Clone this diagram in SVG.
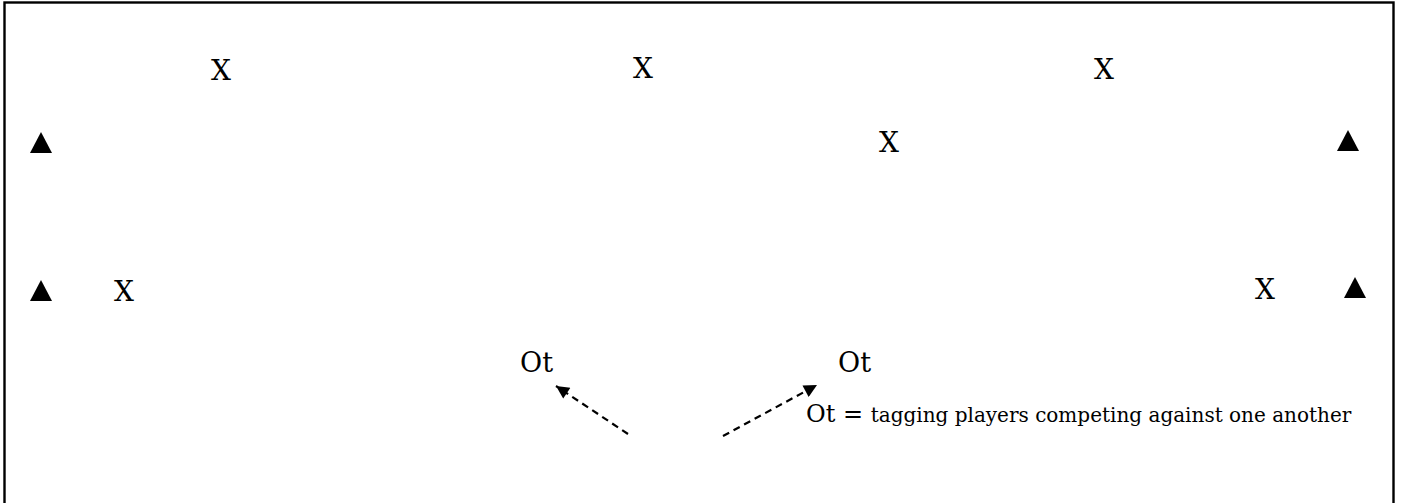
<svg xmlns="http://www.w3.org/2000/svg" width="1401" height="503" viewBox="0 0 1401 503">
<style>
text{font-family:'DejaVu Serif','Noto Serif','Liberation Serif',serif;fill:#000}
.lbl{font-size:28px}
.ot{font-size:27px}
.big{font-size:24px}
.small{font-size:20px}
.cone{fill:#000}
.arrow{stroke:#000;stroke-width:2.2;stroke-dasharray:7 5;fill:none}
</style>
<defs>
<marker id="ah" viewBox="0 0 10 10" refX="10" refY="5" markerWidth="16" markerHeight="13" markerUnits="userSpaceOnUse" orient="auto">
<path d="M0,0 L10,5 L0,10 z" fill="#000"/>
</marker>
</defs>
<rect x="4.5" y="2.5" width="1389" height="520" fill="#fff" stroke="#000" stroke-width="2.4"/>
<g id="x1"><text class="lbl" x="221" y="80" text-anchor="middle">X</text></g>
<g id="x2"><text class="lbl" x="643" y="78" text-anchor="middle">X</text></g>
<g id="x3"><text class="lbl" x="1104" y="79" text-anchor="middle">X</text></g>
<g id="x4"><text class="lbl" x="889" y="152" text-anchor="middle">X</text></g>
<g id="x5"><text class="lbl" x="124" y="301" text-anchor="middle">X</text></g>
<g id="x6"><text class="lbl" x="1265" y="299" text-anchor="middle">X</text></g>
<g id="cone1"><polygon class="cone" points="41,132 30,153 52,153"/></g>
<g id="cone2"><polygon class="cone" points="41,280 30,301 52,301"/></g>
<g id="cone3"><polygon class="cone" points="1348,130 1337,151 1359,151"/></g>
<g id="cone4"><polygon class="cone" points="1355,277 1344,298 1366,298"/></g>
<g id="ot1"><text class="ot" x="520" y="372">Ot</text></g>
<g id="ot2"><text class="ot" x="838" y="372">Ot</text></g>
<g id="connectors">
<line class="arrow" x1="628" y1="434" x2="556" y2="386" marker-end="url(#ah)"/>
<line class="arrow" x1="723" y1="436" x2="817" y2="385" marker-end="url(#ah)"/>
</g>
<g id="legend"><text x="806" y="422"><tspan class="big">Ot = </tspan><tspan class="small">tagging players competing against one another</tspan></text></g>
</svg>
